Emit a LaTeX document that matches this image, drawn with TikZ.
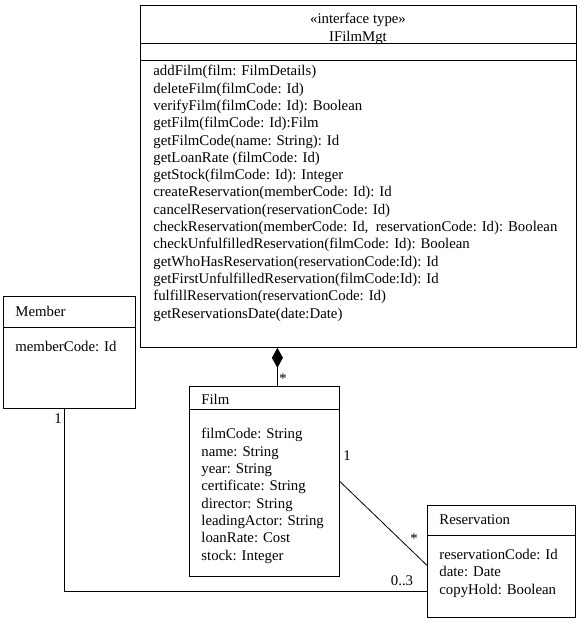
\documentclass[tikz,border=0pt]{standalone}
\usepackage{fontspec}
\setmainfont{Liberation Serif}
\usetikzlibrary{arrows.meta}

\begin{document}
\begin{tikzpicture}[x=1pt,y=-1pt,line width=0.8pt,
    font=\fontsize{14.8}{17.3}\selectfont,
    classbox/.style={draw,inner sep=0pt,anchor=north west},
    txt/.style={inner sep=0pt,anchor=base west,align=left},
    mult/.style={inner sep=0pt,anchor=base}]
    \useasboundingbox (0,0) rectangle (585,633);

    % class boxes
    \node[classbox,minimum width=436pt,minimum height=342pt] (iface) at (140,5) {};
    \node[classbox,minimum width=132pt,minimum height=112pt] (member) at (3,296) {};
    \node[classbox,minimum width=150pt,minimum height=190pt] (film) at (189,386) {};
    \node[classbox,minimum width=148pt,minimum height=112pt] (resv) at (427,505) {};

    % compartments
    \draw ([yshift=-38pt]iface.north west) -- ([yshift=-38pt]iface.north east);
    \draw ([yshift=-55pt]iface.north west) -- ([yshift=-55pt]iface.north east);
    \draw ([yshift=-31pt]member.north west) -- ([yshift=-31pt]member.north east);
    \draw ([yshift=-23pt]film.north west) -- ([yshift=-23pt]film.north east);
    \draw ([yshift=-30pt]resv.north west) -- ([yshift=-30pt]resv.north east);

    % texts (base = last line)
    \node[inner sep=0pt,anchor=base,align=center] (ifname) at (358,41)
        {«interface type»\\IFilmMgt};
    \node[txt] (ifops) at (153,318)
        {addFilm(film: FilmDetails)\\
         deleteFilm(filmCode: Id)\\
         verifyFilm(filmCode: Id): Boolean\\
         getFilm(filmCode: Id):Film\\
         getFilmCode(name: String): Id\\
         getLoanRate (filmCode: Id)\\
         getStock(filmCode: Id): Integer\\
         createReservation(memberCode: Id): Id\\
         cancelReservation(reservationCode: Id)\\
         checkReservation(memberCode: Id,\ \ reservationCode: Id): Boolean\\
         checkUnfulfilledReservation(filmCode: Id): Boolean\\
         getWhoHasReservation(reservationCode:Id): Id\\
         getFirstUnfulfilledReservation(filmCode:Id): Id\\
         fulfillReservation(reservationCode: Id)\\
         getReservationsDate(date:Date)};

    \node[txt] (membername) at (15,316) {Member};
    \node[txt] (memberattr) at (15,351) {memberCode: Id};

    \node[txt] (filmname) at (201,404) {Film};
    \node[txt] (filmattr) at (201,560)
        {filmCode: String\\
         name: String\\
         year: String\\
         certificate: String\\
         director: String\\
         leadingActor: String\\
         loanRate: Cost\\
         stock: Integer};

    \node[txt] (resvname) at (439,524) {Reservation};
    \node[txt] (resvattr) at (439,594)
        {reservationCode: Id\\
         date: Date\\
         copyHold: Boolean};

    % associations
    \draw[-{Diamond[length=20pt,width=11pt]}]
        ([xshift=13pt]film.north) -- ([xshift=13pt]film.north |- iface.south);
    \draw ([xshift=-5pt]member.south) |- ([yshift=26pt]resv.south west);
    \draw (film.east) -- ([yshift=-4pt]resv.west);

    % multiplicities
    \node[mult] (m1) at (283,383) {*};
    \node[mult] (m2) at (58,423) {1};
    \node[mult] (m3) at (347,460) {1};
    \node[mult] (m4) at (414,543) {*};
    \node[mult] (m5) at (402,585) {0..3};
\end{tikzpicture}
\end{document}
